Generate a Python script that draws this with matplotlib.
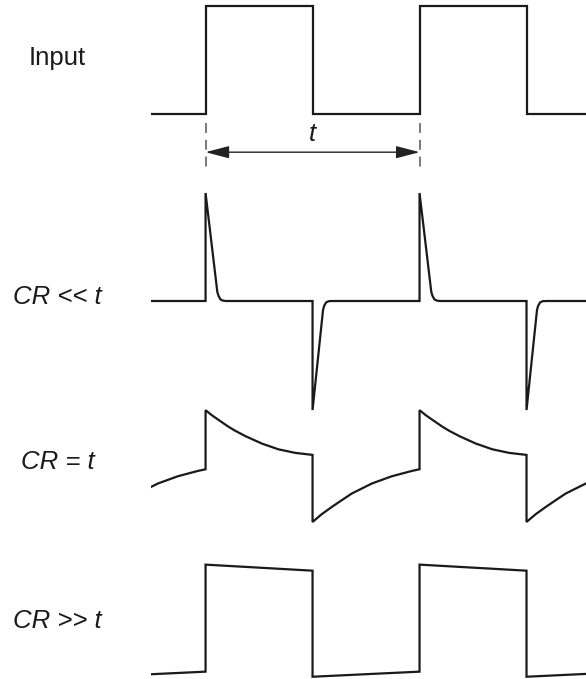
import numpy as np
import matplotlib
matplotlib.use('Agg')
import matplotlib.pyplot as plt

# time in units of the period t (0 = rising edge), voltage in units of the input step
periods = [-1, 0, 1, 2]
view_t = (-0.255, 1.778)

# Input square wave, one period
input_t = [0, 0, 0.5, 0.5]
input_v = [0, 1, 1, 0]

# CR << t : short spikes at each edge
short_t = [0, 0, 0.055, 0.061, 0.070, 0.082, 0.096,
           0.5, 0.5, 0.549, 0.554, 0.563, 0.575, 0.591]
short_v = [0, 1.0, 0.083, 0.046, 0.014, 0.003, 0,
           0, -1.01, -0.083, -0.046, -0.014, -0.002, 0]

# CR = t : exponential-looking decay
equal_t = [0, 0, 0.029, 0.060, 0.107, 0.138, 0.185, 0.263, 0.340, 0.418, 0.5,
           0.5, 0.543, 0.590, 0.636, 0.683, 0.777, 0.870, 0.963]
equal_v = [-0.028, 0.519, 0.473, 0.430, 0.366, 0.329, 0.280, 0.210, 0.157, 0.124, 0.105,
           -0.516, -0.444, -0.377, -0.315, -0.253, -0.160, -0.093, -0.044]

# CR >> t : nearly square, slight tilt
long_t = [0, 0, 0.5, 0.5]
long_v = [-0.472, 0.519, 0.463, -0.519]

labels = ['Input', 'CR << t', 'CR = t', 'CR >> t']
label_style = ['normal', 'italic', 'italic', 'italic']
offsets = [5.23, 3.50, 1.97, 0.54]      # row baselines
label_dy = [0.52, 0.04, 0.04, 0.0]

marker_edges = [0, 1]   # edges marked by the dashed lines / arrow

ink = '#1a1a1a'


def repeat(t, v):
    t = np.asarray(t, float)
    v = np.asarray(v, float)
    tt = np.concatenate([t + k for k in periods])
    vv = np.tile(v, len(periods))
    return tt, vv


fig = plt.figure(figsize=(5.86, 6.79), dpi=100)
ax = fig.add_axes([151 / 586, 0, 435 / 586, 1])
ax.set_xlim(*view_t)
ax.set_ylim(0, 679 / 108)
ax.axis('off')

traces = [(input_t, input_v), (short_t, short_v),
          (equal_t, equal_v), (long_t, long_v)]
for (t, v), off in zip(traces, offsets):
    tt, vv = repeat(t, v)
    ax.plot(tt, vv + off, color=ink, lw=1.6,
            solid_joinstyle='miter', solid_capstyle='butt')

# labels on the left
for text, style, off, dy in zip(labels, label_style, offsets, label_dy):
    ax.text(-0.692, off + dy, text, ha='center', va='center',
            fontsize=18.5, fontstyle=style, family='Liberation Sans',
            color=ink, clip_on=False)

# dashed edge markers and the period arrow
base = offsets[0]
for e in marker_edges:
    ax.plot([e, e], [base - 0.083, base - 0.49], color='#555555', lw=1.1,
            linestyle=(0, (6.5, 4.5)))

arrow_y = base - 0.352
ax.annotate('', xy=(marker_edges[0], arrow_y), xytext=(marker_edges[1], arrow_y),
            arrowprops=dict(arrowstyle='<|-|>,head_length=1.45,head_width=0.38',
                            color='#222222', lw=1.0, shrinkA=0, shrinkB=0))
ax.text(np.mean(marker_edges), base - 0.18, 't', ha='center', va='center',
        fontsize=18.5, fontstyle='italic', family='Liberation Sans', color=ink)

fig.savefig('out.png', dpi=100, facecolor='white')
